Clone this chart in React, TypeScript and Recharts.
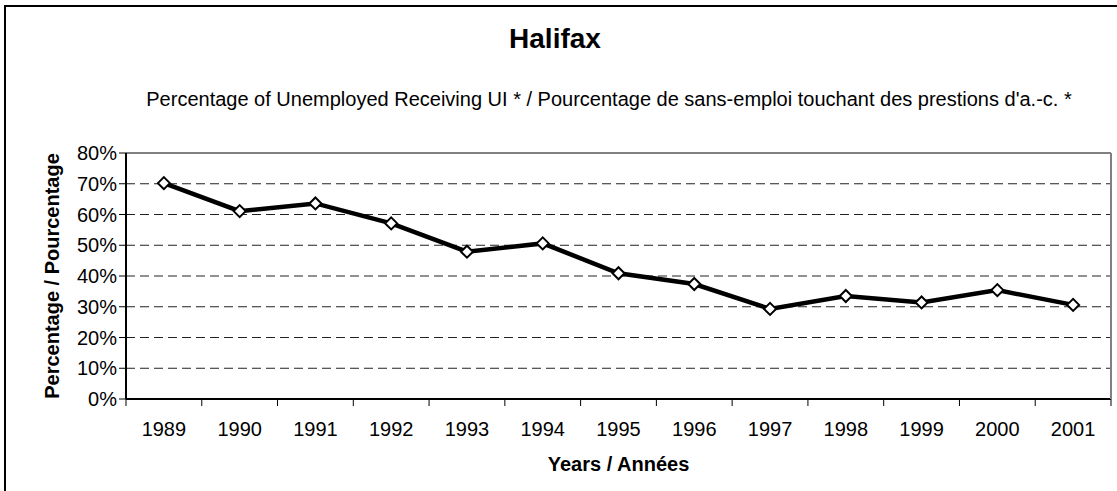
import { LineChart, Line, XAxis, YAxis, CartesianGrid, ReferenceLine } from 'recharts';

const years = ['1989', '1990', '1991', '1992', '1993', '1994', '1995', '1996', '1997', '1998', '1999', '2000', '2001'];
const shares = [70.2, 61.1, 63.6, 57.1, 47.9, 50.6, 40.9, 37.4, 29.3, 33.5, 31.4, 35.4, 30.6];
const yTicks = [0, 10, 20, 30, 40, 50, 60, 70, 80];

const data = years.map((year, i) => ({ year, share: shares[i] }));

const W = 1117;
const H = 491;
const margin = { top: 153, right: 5, bottom: 12, left: 30 };
const Y_AXIS_W = 96;
const plotW = W - margin.left - margin.right - Y_AXIS_W - 1;
const band = plotW / years.length;
const FONT = '"Liberation Sans", Arial, sans-serif';

function YearTick(props: any) {
  const { x, y, payload, index } = props;
  const left = x - band / 2;
  return (
    <g>
      <line x1={left} y1={y} x2={left} y2={y + 7} stroke="#000" strokeWidth={1} />
      {index === years.length - 1 && (
        <line x1={left + band} y1={y} x2={left + band} y2={y + 7} stroke="#000" strokeWidth={1} />
      )}
      <text x={x} y={y + 30} dy="0.36em" textAnchor="middle" fontSize={20} fill="#000" fontFamily={FONT}>
        {payload.value}
      </text>
    </g>
  );
}

function Diamond(props: any) {
  const { cx, cy } = props;
  if (cx == null || cy == null) return null;
  const r = 6;
  return (
    <polygon
      points={`${cx},${cy - r} ${cx + r},${cy} ${cx},${cy + r} ${cx - r},${cy}`}
      fill="#fff"
      stroke="#000"
      strokeWidth={2}
    />
  );
}

export default function App() {
  return (
    <div style={{ position: 'absolute', left: 0, top: 0, width: W, height: H, overflow: 'hidden', background: '#fff', fontFamily: FONT }}>
      <div style={{ position: 'absolute', left: 4, top: 5, width: W + 20, height: H + 20, border: '2px solid #000' }} />
      <svg width={W} height={140} style={{ position: 'absolute', left: 0, top: 0 }}>
        <text x={555} y={48} textAnchor="middle" fontSize={28} fontWeight="bold" fontFamily={FONT} fill="#000">
          Halifax
        </text>
        <text x={609} y={106} textAnchor="middle" fontSize={20} fontFamily={FONT} fill="#000">
          Percentage of Unemployed Receiving UI * / Pourcentage de sans-emploi touchant des prestions d'a.-c. *
        </text>
      </svg>
      <div style={{ position: 'absolute', left: 0, top: 0 }}>
        <LineChart width={W} height={H} data={data} margin={margin}>
          <ReferenceLine y={80} stroke="#808080" strokeWidth={2} />
          <CartesianGrid vertical={false} stroke="#222" strokeDasharray="9 5" />
          <XAxis
            dataKey="year"
            height={80}
            padding={{ left: band / 2, right: band / 2 }}
            tickSize={0}
            tickMargin={0}
            tick={<YearTick />}
            interval={0}
            axisLine={{ stroke: '#000', strokeWidth: 2 }}
            label={{
              value: 'Years / Années',
              position: 'insideBottom',
              offset: 8,
              fontSize: 20,
              fontWeight: 'bold',
              fill: '#000',
              fontFamily: FONT,
            }}
          />
          <YAxis
            width={Y_AXIS_W}
            domain={[0, 80]}
            ticks={yTicks}
            tickFormatter={(v: number) => `${v}%`}
            tickSize={7}
            tickMargin={2}
            tick={{ fontSize: 20, fill: '#000', fontFamily: FONT }}
            tickLine={{ stroke: '#000' }}
            axisLine={{ stroke: '#000', strokeWidth: 2 }}
            label={{
              value: 'Percentage / Pourcentage',
              angle: -90,
              position: 'insideLeft',
              offset: 22,
              fontSize: 20,
              fontWeight: 'bold',
              fill: '#000',
              fontFamily: FONT,
              style: { textAnchor: 'middle' },
            }}
          />
          <YAxis
            yAxisId="frame"
            orientation="right"
            width={1}
            tick={false}
            tickLine={false}
            axisLine={{ stroke: '#808080', strokeWidth: 2 }}
          />
          <Line
            type="linear"
            dataKey="share"
            stroke="#000"
            strokeWidth={4.5}
            dot={<Diamond />}
            activeDot={false}
            isAnimationActive={false}
          />
        </LineChart>
      </div>
    </div>
  );
}
